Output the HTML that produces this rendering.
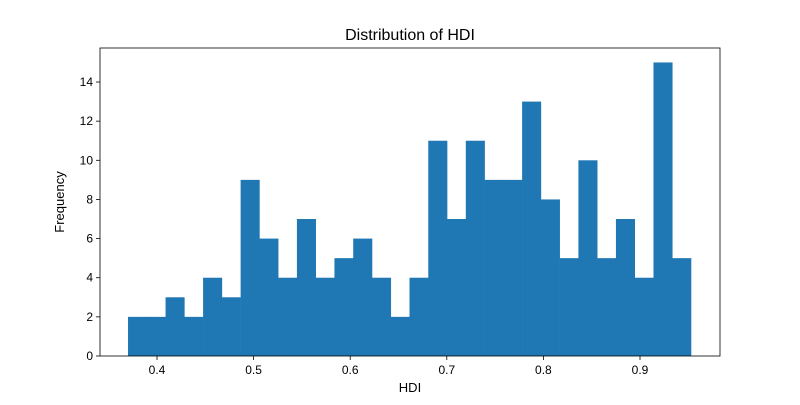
<!DOCTYPE html>
<html><head><meta charset="utf-8"><style>
body{margin:0;background:#fff;font-family:"Liberation Sans",sans-serif;}
svg text{font-family:"Liberation Sans",sans-serif;fill:#000;}
</style></head><body>
<svg id="chart" width="800" height="400"></svg>
<script>
const counts=[2,2,3,2,4,3,9,6,4,7,4,5,6,4,2,4,11,7,11,9,9,13,8,5,10,5,7,4,15,5];
const binStart=0.37, binEnd=0.9528;
const xTicks=[0.4,0.5,0.6,0.7,0.8,0.9];
const yTicks=[0,2,4,6,8,10,12,14];
const L=100,R=720,T=48,B=356;
const xs=v=>157+(v-0.4)*966;
const ys=v=>B-v*19.57;
const svg=document.getElementById('chart');
const NS='http://www.w3.org/2000/svg';
function mk(tag,attrs,parent){const e=document.createElementNS(NS,tag);for(const k in attrs)e.setAttribute(k,attrs[k]);(parent||svg).appendChild(e);return e;}
const bw=(binEnd-binStart)/counts.length;
counts.forEach((c,i)=>{
  const x0=xs(binStart+i*bw),x1=xs(binStart+(i+1)*bw);
  const r=mk('rect',{x:x0,y:ys(c),width:x1-x0+0.3,height:B-ys(c),fill:'#1f77b4'});
  
  
});
const frame=mk('rect',{x:L,y:T,width:R-L,height:B-T,fill:'none',stroke:'#000','stroke-width':0.8});


xTicks.forEach(t=>{
  const x=xs(t);
  mk('line',{x1:x,x2:x,y1:B,y2:B+4,stroke:'#000','stroke-width':0.8});
  const tx=mk('text',{x:x,y:B+18,'text-anchor':'middle','font-size':12});
  tx.textContent=t.toFixed(1);
  
  
});
yTicks.forEach(t=>{
  const y=ys(t);
  mk('line',{x1:L-4,x2:L,y1:y,y2:y,stroke:'#000','stroke-width':0.8});
  const tx=mk('text',{x:L-7,y:y+4,'text-anchor':'end','font-size':12});
  tx.textContent=t;
  
  
});
const title=mk('text',{x:410,y:40,'text-anchor':'middle','font-size':16});
title.textContent='Distribution of HDI';


const xl=mk('text',{x:410,y:392,'text-anchor':'middle','font-size':13});
xl.textContent='HDI';


const yl=mk('text',{x:64,y:202,'text-anchor':'middle','font-size':13,transform:'rotate(-90 64 202)'});
yl.textContent='Frequency';


</script>
</body></html>
